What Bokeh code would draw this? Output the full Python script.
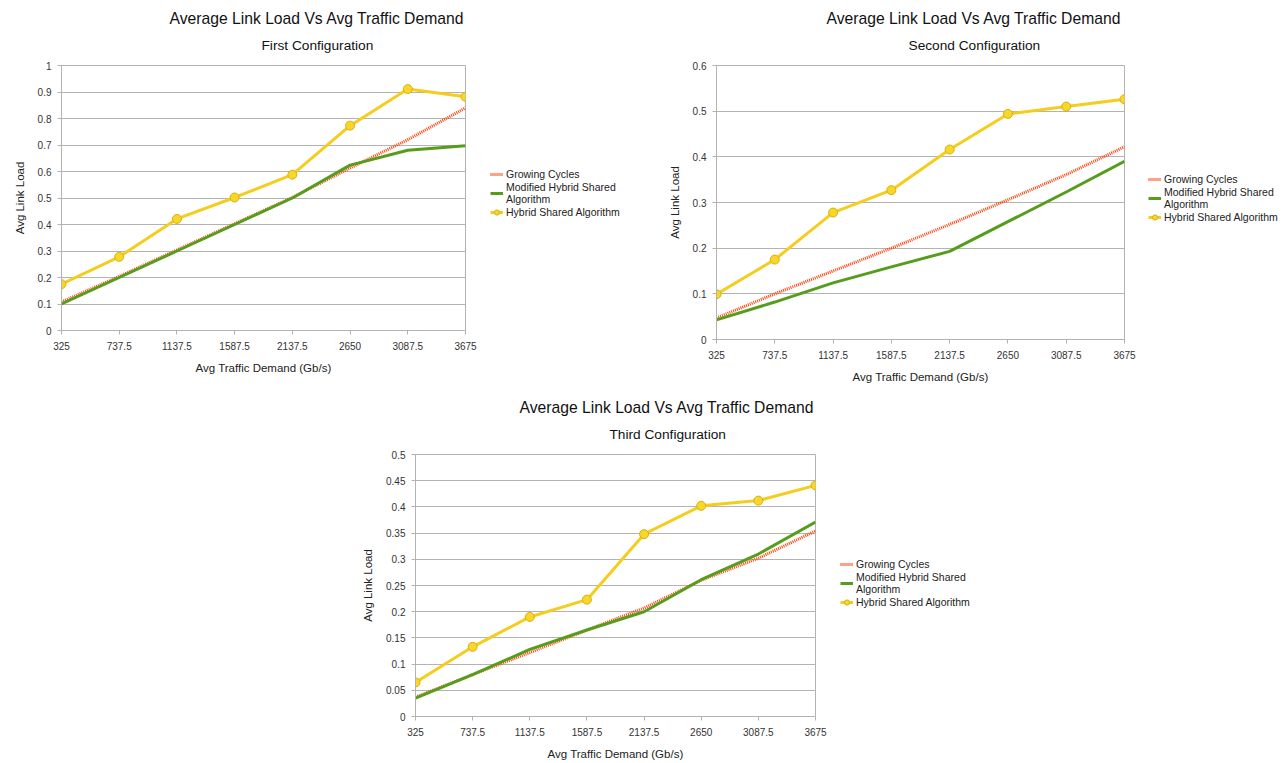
from bokeh.plotting import figure
from bokeh.models import (Range1d, FixedTicker, NumeralTickFormatter,
                          Title, Legend, LegendItem, Spacer)
from bokeh.layouts import row, column
from bokeh.embed import file_html
from bokeh.resources import INLINE

# ---------------- data ----------------
demand_labels = ["325", "737.5", "1137.5", "1587.5", "2137.5", "2650", "3087.5", "3675"]

main_title = "Average Link Load Vs Avg Traffic Demand"
subtitles = ["First Configuration", "Second Configuration", "Third Configuration"]
series_names = ["Growing Cycles", "Modified Hybrid Shared\nAlgorithm", "Hybrid Shared Algorithm"]

first_growing = [0.108, 0.204, 0.304, 0.403, 0.502, 0.613, 0.72, 0.84]
first_modified = [0.10, 0.20, 0.30, 0.40, 0.50, 0.624, 0.68, 0.697]
first_hybrid = [0.175, 0.278, 0.421, 0.502, 0.588, 0.773, 0.911, 0.882]

second_growing = [0.047, 0.10, 0.15, 0.20, 0.252, 0.306, 0.361, 0.422]
second_modified = [0.043, 0.082, 0.124, 0.159, 0.193, 0.258, 0.323, 0.39]
second_hybrid = [0.099, 0.175, 0.278, 0.327, 0.416, 0.494, 0.51, 0.526]

third_growing = [0.037, 0.08, 0.122, 0.165, 0.207, 0.26, 0.302, 0.354]
third_modified = [0.035, 0.08, 0.128, 0.165, 0.2, 0.261, 0.31, 0.371]
third_hybrid = [0.065, 0.133, 0.19, 0.223, 0.348, 0.402, 0.412, 0.441]

y_max = [1.0, 0.6, 0.5]
y_step = [0.1, 0.1, 0.05]

# ---------------- style ----------------
FONT = "Liberation Sans"
RED = "#ff420e"
GREEN = "#579d1c"
YELLOW = "#f5cd1e"
MARK_FILL = "#f8d62a"
MARK_LINE = "#d8b010"
GRID = "#b3b3b3"
TXT = "#333333"


def style_growing(p, xs, ys):
    return p.line(xs, ys, line_color=RED, line_width=3, line_dash="1 1")


def style_modified(p, xs, ys):
    return p.line(xs, ys, line_color=GREEN, line_width=3)


def style_hybrid(p, xs, ys):
    r1 = p.line(xs, ys, line_color=YELLOW, line_width=3)
    r2 = p.scatter(xs, ys, size=9, marker="circle", fill_color=MARK_FILL,
                   line_color=MARK_LINE, line_width=1)
    return [r1, r2]


def chart(sub, growing, modified, hybrid, ymax, ystep, width, height,
          b_left, b_right, b_top, b_bottom, main_off, sub_off):
    xs = list(range(len(demand_labels)))
    p = figure(width=width, height=height, output_backend="svg", toolbar_location=None,
               x_range=Range1d(0, len(demand_labels) - 1), y_range=Range1d(0, ymax),
               min_border=0, min_border_left=b_left, min_border_right=b_right,
               min_border_top=b_top, min_border_bottom=b_bottom,
               background_fill_color="white", border_fill_color="white")
    p.frame_align = False
    p.outline_line_color = GRID
    p.outline_line_width = 1

    p.add_layout(Title(text=sub, align="left", vertical_align="top", text_font=FONT,
                       text_font_size="13.7px", text_font_style="normal", text_color="#111111",
                       offset=sub_off, standoff=22), "above")
    p.add_layout(Title(text=main_title, align="left", text_font=FONT, text_font_size="15.7px",
                       text_font_style="normal", text_color="#111111",
                       offset=main_off, standoff=0), "above")

    n_ticks = int(round(ymax / ystep)) + 1
    p.xaxis.ticker = FixedTicker(ticks=xs)
    p.xaxis.major_label_overrides = {i: lab for i, lab in zip(xs, demand_labels)}
    p.yaxis.ticker = FixedTicker(ticks=[round(i * ystep, 3) for i in range(n_ticks)])
    p.yaxis.formatter = NumeralTickFormatter(format="0.[00]")
    p.xaxis.axis_label = "Avg Traffic Demand (Gb/s)"
    p.yaxis.axis_label = "Avg Link Load"
    for ax in (p.xaxis[0], p.yaxis[0]):
        ax.axis_line_color = GRID
        ax.major_tick_line_color = GRID
        ax.major_tick_out = 4
        ax.major_tick_in = 0
        ax.minor_tick_line_color = None
        ax.major_label_text_font = FONT
        ax.major_label_text_font_size = "10px"
        ax.major_label_text_color = TXT
        ax.axis_label_text_font = FONT
        ax.axis_label_text_font_size = "11.5px"
        ax.axis_label_text_font_style = "normal"
        ax.axis_label_text_color = "#222222"
        ax.axis_label_standoff = 9
    p.xaxis.major_label_standoff = 7
    p.yaxis.major_label_standoff = 6

    p.xgrid.grid_line_color = None
    p.ygrid.grid_line_color = GRID
    p.ygrid.grid_line_width = 1

    style_growing(p, xs, growing)
    style_modified(p, xs, modified)
    style_hybrid(p, xs, hybrid)
    return p


def legend_fig(growing, modified, hybrid, width, height, b_top, b_bottom, x_off):
    # the legend sits in its own panel; its renderers use the series, scrolled out of view
    xs = list(range(len(demand_labels)))
    p = figure(width=width, height=height, output_backend="svg", toolbar_location=None,
               x_axis_type=None, y_axis_type=None,
               x_range=Range1d(100, 101), y_range=Range1d(100, 101),
               min_border=0, min_border_top=b_top, min_border_bottom=b_bottom,
               background_fill_color="white", border_fill_color="white")
    p.frame_align = False
    p.outline_line_color = None
    p.grid.visible = False
    rg = style_growing(p, xs, growing)
    rm = style_modified(p, xs, modified)
    rh = style_hybrid(p, xs, hybrid)
    legend = Legend(items=[LegendItem(label=series_names[0], renderers=[rg]),
                           LegendItem(label=series_names[1], renderers=[rm]),
                           LegendItem(label=series_names[2], renderers=rh)],
                    location="center_left", margin=x_off, padding=0, spacing=0,
                    glyph_width=13, glyph_height=14, label_height=14, label_standoff=3,
                    label_text_font=FONT, label_text_font_size="10.5px",
                    label_text_color="#222222", label_text_line_height=1.35,
                    border_line_color=None, background_fill_alpha=0)
    p.add_layout(legend, "center")
    return p


p1 = chart(subtitles[0], first_growing, first_modified, first_hybrid, y_max[0], y_step[0],
           469, 382, 53, 12, 59, 382 - 59 - 265, 108, 200)
l1 = legend_fig(first_growing, first_modified, first_hybrid, 173, 382, 0, 8, 13)
p2 = chart(subtitles[1], second_growing, second_modified, second_hybrid, y_max[1], y_step[1],
           486, 382, 66, 12, 59, 382 - 59 - 274, 110, 192)
l2 = legend_fig(second_growing, second_modified, second_hybrid, 144, 382, 2, 0, 12)
p3 = chart(subtitles[2], third_growing, third_modified, third_hybrid, y_max[2], y_step[2],
           477, 374, 65, 12, 66, 374 - 66 - 264, 104, 194)
l3 = legend_fig(third_growing, third_modified, third_hybrid, 160, 374, 16, 0, 13)

charts = column(row(p1, l1, p2, l2), row(Spacer(width=342, height=374), p3, l3))
layout = row(Spacer(width=8, height=10), column(Spacer(width=10, height=6), charts))

open("out.html", "w").write(file_html(layout, INLINE))
